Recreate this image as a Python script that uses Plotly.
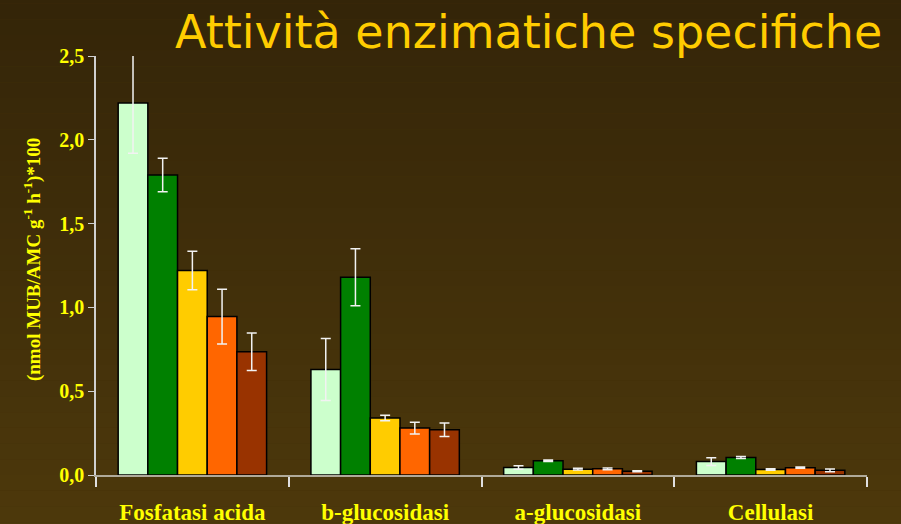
import plotly.graph_objects as go

categories = ["Fosfatasi acida", "b-glucosidasi", "a-glucosidasi", "Cellulasi"]

serie_1 = [2.22, 0.63, 0.045, 0.08]
serie_2 = [1.79, 1.18, 0.085, 0.105]
serie_3 = [1.22, 0.34, 0.035, 0.033]
serie_4 = [0.945, 0.28, 0.037, 0.044]
serie_5 = [0.735, 0.27, 0.022, 0.028]

err_1 = [0.30, 0.185, 0.010, 0.023]
err_2 = [0.10, 0.17, 0.005, 0.006]
err_3 = [0.115, 0.016, 0.005, 0.005]
err_4 = [0.163, 0.035, 0.005, 0.004]
err_5 = [0.112, 0.04, 0.003, 0.008]

colors = ["#CCFFCC", "#008000", "#FFCC00", "#FF6600", "#993300"]
values = [serie_1, serie_2, serie_3, serie_4, serie_5]
errors = [err_1, err_2, err_3, err_4, err_5]

fig = go.Figure()
for vals, errs, col in zip(values, errors, colors):
    fig.add_trace(go.Bar(
        x=categories, y=vals,
        marker=dict(color=col, line=dict(color="black", width=1.5)),
        error_y=dict(type="data", array=errs, visible=True,
                     color="#f2f2f2", thickness=1.5, width=5),
        showlegend=False,
    ))

# background gradient, dark at top to lighter brown at bottom
top = (0x33, 0x24, 0x08)
bottom = (0x50, 0x3b, 0x0c)
n = 40
shapes = []
for i in range(n):
    t = i / (n - 1)
    c = tuple(round(top[k] + (bottom[k] - top[k]) * t) for k in range(3))
    shapes.append(dict(
        type="rect", xref="paper", yref="paper", layer="below",
        x0=-0.2, x1=1.2, y0=1.2 - (i + 1) * 1.5 / n, y1=1.2 - i * 1.5 / n,
        fillcolor="rgb(%d,%d,%d)" % c, line=dict(width=0),
    ))

fig.update_layout(
    width=901, height=524,
    margin=dict(l=96, r=34, t=56, b=49),
    paper_bgcolor="#45330a",
    plot_bgcolor="rgba(0,0,0,0)",
    barmode="group",
    bargap=0.23,
    bargroupgap=0,
    shapes=shapes,
    separators=",.",
    font=dict(family="Liberation Serif", color="#FFFF00"),
    annotations=[
        dict(
            text="Attività enzimatiche specifiche",
            xref="paper", yref="paper", x=1.022, y=1.0, yshift=24,
            xanchor="right", yanchor="middle", showarrow=False,
            font=dict(family="DejaVu Sans", size=46, color="#FFCC00"),
        ),
        dict(
            text="(nmol MUB/AMC g<sup>-1</sup> h<sup>-1</sup>)*100",
            xref="paper", yref="paper", x=0, xshift=-64, y=0.513,
            xanchor="center", yanchor="middle", textangle=-90, showarrow=False,
            font=dict(family="Liberation Serif", size=19, color="#FFFF00", weight="bold"),
        ),
    ],
)

fig.update_xaxes(
    automargin=False,
    showline=True, linecolor="#b0aa9a", linewidth=2,
    ticks="outside", tickson="boundaries", ticklen=10, tickcolor="#e0e0e0",
    tickwidth=1.5, showgrid=False,
    tickfont=dict(family="Liberation Serif", size=23, color="#FFFF00", weight="bold"),
    ticklabelstandoff=15,
)
fig.update_yaxes(
    automargin=False,
    range=[0, 2.5], dtick=0.5, tickformat=".1f",
    showline=True, linecolor="#d0d0d0", linewidth=1.5,
    ticks="outside", ticklen=6, tickcolor="#d0d0d0", showgrid=False, zeroline=False,
    tickfont=dict(family="Liberation Serif", size=20, color="#FFFF00", weight="bold"),
)

fig.write_html("out.html", config={"displayModeBar": False},
               post_script="document.body.style.margin='0';")
